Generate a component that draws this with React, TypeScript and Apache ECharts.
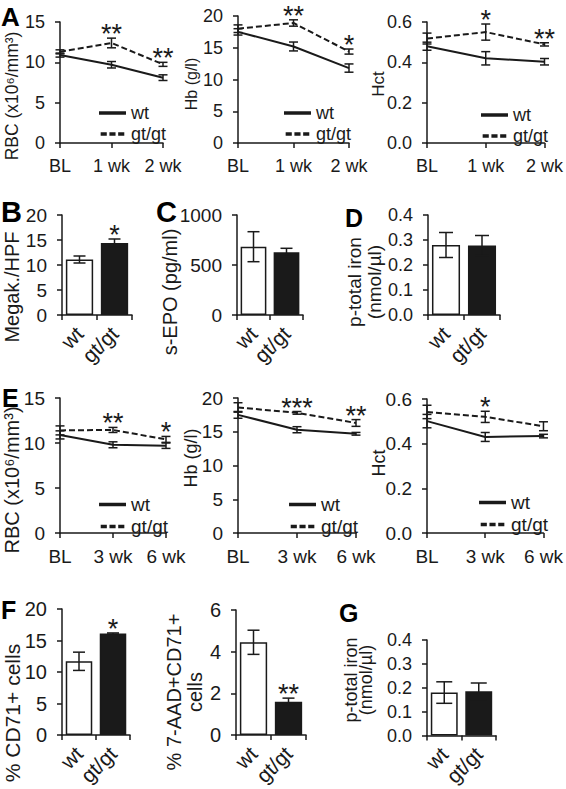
import React, { useEffect, useRef } from 'react';
import * as echarts from 'echarts';

// ---------------- data ----------------
const weeksA = ['BL', '1 wk', '2 wk'];
const weeksE = ['BL', '3 wk', '6 wk'];
const genotypes = ['wt', 'gt/gt'];

// Panel A (RBC, Hb, Hct at BL / 1 wk / 2 wk)
const rbcA_wt = [10.9, 9.7, 8.1];
const rbcA_wtSem = [0.25, 0.4, 0.35];
const rbcA_gt = [11.3, 12.4, 9.75];
const rbcA_gtSem = [0.25, 0.6, 0.25];
const rbcA_sig = ['', '**', '**'];

const hbA_wt = [17.5, 15.2, 11.8];
const hbA_wtSem = [0.5, 0.7, 0.65];
const hbA_gt = [18.0, 18.9, 14.4];
const hbA_gtSem = [0.6, 0.5, 0.4];
const hbA_sig = ['', '**', '*'];

const hctA_wt = [0.48, 0.42, 0.403];
const hctA_wtSem = [0.02, 0.033, 0.016];
const hctA_gt = [0.518, 0.55, 0.489];
const hctA_gtSem = [0.027, 0.04, 0.008];
const hctA_sig = ['', '*', '**'];

// Panels B, C, D (wt, gt/gt)
const megak = [11.1, 14.4];
const megakSem = [0.7, 0.8];
const megakSig = ['', '*'];
const epo = [683, 627];
const epoSem = [150, 40];
const epoSig = ['', ''];
const ironD = [0.28, 0.278];
const ironDSem = [0.05, 0.04];
const ironDSig = ['', ''];

// Panel E (RBC, Hb, Hct at BL / 3 wk / 6 wk)
const rbcE_wt = [10.9, 9.8, 9.7];
const rbcE_wtSem = [0.45, 0.33, 0.3];
const rbcE_gt = [11.4, 11.45, 10.4];
const rbcE_gtSem = [0.5, 0.28, 0.33];
const rbcE_sig = ['', '**', '*'];

const hbE_wt = [17.5, 15.3, 14.7];
const hbE_wtSem = [0.5, 0.45, 0.2];
const hbE_gt = [18.6, 17.8, 16.3];
const hbE_gtSem = [0.7, 0.2, 0.5];
const hbE_sig = ['', '***', '**'];

const hctE_wt = [0.501, 0.43, 0.434];
const hctE_wtSem = [0.03, 0.02, 0.008];
const hctE_gt = [0.542, 0.52, 0.478];
const hctE_gtSem = [0.03, 0.025, 0.02];
const hctE_sig = ['', '*', ''];

// Panels F, G (wt, gt/gt)
const cd71 = [11.7, 16.1];
const cd71Sem = [1.45, 0.1];
const cd71Sig = ['', '*'];
const aad = [4.45, 1.6];
const aadSem = [0.58, 0.17];
const aadSig = ['', '**'];
const ironG = [0.18, 0.185];
const ironGSem = [0.045, 0.035];
const ironGSig = ['', ''];

// ---------------- styling / layout ----------------
const FONT = 'Arial, "Liberation Sans", Helvetica, sans-serif';
const INK = '#1a1a1a';
const DASH_ICON = 'path://M0,0h7v4h-7zM10,0h7v4h-7zM20,0h7v4h-7z';

type LineP = {
  box: number[]; cats: string[]; max: number; step: number; dec: number;
  wt: number[]; wtE: number[]; gt: number[]; gtE: number[]; sig: string[];
  font: number; legend: number[]; cap: number;
};
type BarP = {
  box: number[]; max: number; step: number; dec: number;
  vals: number[]; sems: number[]; sig: string[]; font: number; xFont: number; cap: number;
};

const linePanels: LineP[] = [
  { box: [60, 22, 103, 121], cats: weeksA, max: 15, step: 5, dec: 0, wt: rbcA_wt, wtE: rbcA_wtSem, gt: rbcA_gt, gtE: rbcA_gtSem, sig: rbcA_sig, font: 18, legend: [400, 104], cap: 9 },
  { box: [238, 16, 111, 127], cats: weeksA, max: 20, step: 5, dec: 0, wt: hbA_wt, wtE: hbA_wtSem, gt: hbA_gt, gtE: hbA_gtSem, sig: hbA_sig, font: 18, legend: [215, 104], cap: 9 },
  { box: [427, 22, 118, 121], cats: weeksA, max: 0.6, step: 0.2, dec: 1, wt: hctA_wt, wtE: hctA_wtSem, gt: hctA_gt, gtE: hctA_gtSem, sig: hctA_sig, font: 18, legend: [18, 106], cap: 9 },
  { box: [60, 398, 106, 135], cats: weeksE, max: 15, step: 5, dec: 0, wt: rbcE_wt, wtE: rbcE_wtSem, gt: rbcE_gt, gtE: rbcE_gtSem, sig: rbcE_sig, font: 19, legend: [398, 495], cap: 9 },
  { box: [238, 398, 118, 135], cats: weeksE, max: 20, step: 5, dec: 0, wt: hbE_wt, wtE: hbE_wtSem, gt: hbE_gt, gtE: hbE_gtSem, sig: hbE_sig, font: 19, legend: [208, 495], cap: 9 },
  { box: [427, 399, 119, 134], cats: weeksE, max: 0.6, step: 0.2, dec: 1, wt: hctE_wt, wtE: hctE_wtSem, gt: hctE_gt, gtE: hctE_gtSem, sig: hctE_sig, font: 19, legend: [18, 493], cap: 9 },
];

const barPanels: BarP[] = [
  { box: [62, 215, 70, 100], max: 20, step: 5, dec: 0, vals: megak, sems: megakSem, sig: megakSig, font: 19, xFont: 21, cap: 12 },
  { box: [237, 215, 66, 100], max: 1000, step: 500, dec: 0, vals: epo, sems: epoSem, sig: epoSig, font: 19, xFont: 21, cap: 12 },
  { box: [428, 215, 72, 100], max: 0.4, step: 0.1, dec: 1, vals: ironD, sems: ironDSem, sig: ironDSig, font: 18, xFont: 21, cap: 14 },
  { box: [62, 609, 68, 126], max: 20, step: 5, dec: 0, vals: cd71, sems: cd71Sem, sig: cd71Sig, font: 20, xFont: 21, cap: 12 },
  { box: [236, 610, 70, 125], max: 6, step: 2, dec: 0, vals: aad, sems: aadSem, sig: aadSig, font: 20, xFont: 21, cap: 12 },
  { box: [427, 640, 69, 96], max: 0.4, step: 0.1, dec: 1, vals: ironG, sems: ironGSem, sig: ironGSig, font: 18, xFont: 21, cap: 16 },
];

// rotated y-axis titles: [text, x, y, fontSize, lineHeight]
const yTitles: [string, number, number, number, number][] = [
  ['RBC (x10\u2076/mm\u00B3)', 12, 96, 17.5, 20],
  ['Hb (g/l)', 191, 84, 16, 18],
  ['Hct', 378, 84, 17, 18],
  ['Megak./HPF', 12, 287, 20, 20],
  ['s-EPO (pg/ml)', 170, 292, 20, 20],
  ['p-total iron\n(nmol/\u00B5l)', 364, 282, 19, 20],
  ['RBC (x10\u2076/mm\u00B3)', 12, 480, 20, 22],
  ['Hb (g/l)', 191, 458, 18, 20],
  ['Hct', 379, 463, 18, 20],
  ['% CD71+ cells', 12, 713, 21, 22],
  ['% 7-AAD+CD71+\ncells', 184, 692, 20, 21],
  ['p-total iron\n(nmol/\u00B5l)', 358, 680, 18, 15],
];

// panel letters: [letter, x, y, fontSize]
const letters: [string, number, number, number][] = [
  ['A', 1, 4, 26], ['B', 1, 197, 29], ['C', 156, 197, 29], ['D', 345, 205, 25],
  ['E', 2, 385, 25], ['F', 1, 597, 25], ['G', 339, 600, 25],
];

function buildOption() {
  const grid: any[] = [];
  const xAxis: any[] = [];
  const yAxis: any[] = [];
  const series: any[] = [];
  const legend: any[] = [];

  const axisLine = { show: true, lineStyle: { color: INK, width: 1.5 } };
  const axisTick = { show: true, length: 5, lineStyle: { color: INK, width: 1.5 } };

  const errSeries = (gi: number, vals: number[], sems: number[], cap: number) => ({
    type: 'custom', name: 'err', xAxisIndex: gi, yAxisIndex: gi, z: 5, silent: true,
    data: vals.map((v, i) => [i, v, sems[i]]),
    renderItem: (_p: any, api: any) => {
      const x = api.value(0), v = api.value(1), e = api.value(2);
      const t = api.coord([x, v + e]);
      const b = api.coord([x, v - e]);
      const h = cap / 2;
      const st = { stroke: INK, lineWidth: 1.5 };
      return {
        type: 'group', children: [
          { type: 'line', shape: { x1: t[0], y1: t[1], x2: b[0], y2: b[1] }, style: st },
          { type: 'line', shape: { x1: t[0] - h, y1: t[1], x2: t[0] + h, y2: t[1] }, style: st },
          { type: 'line', shape: { x1: b[0] - h, y1: b[1], x2: b[0] + h, y2: b[1] }, style: st },
        ],
      };
    },
  });

  const sigSeries = (gi: number, vals: number[], sems: number[], sig: string[]) => ({
    type: 'custom', name: 'sig', xAxisIndex: gi, yAxisIndex: gi, z: 6, silent: true,
    data: sig.map((_s, i) => [i, vals[i] + sems[i], i]).filter((d) => sig[d[2]] !== ''),
    renderItem: (_p: any, api: any) => {
      const p = api.coord([api.value(0), api.value(1)]);
      return {
        type: 'text', x: p[0], y: p[1] - 4,
        style: { text: sig[api.value(2)], fontSize: 27, fontFamily: FONT, fill: INK, align: 'center', verticalAlign: 'middle' },
      };
    },
  });

  const yAx = (gi: number, max: number, step: number, dec: number, font: number) => ({
    type: 'value', gridIndex: gi, min: 0, max, interval: step,
    axisLine, axisTick, splitLine: { show: false },
    axisLabel: { fontSize: font, fontFamily: FONT, color: INK, margin: 15, formatter: (v: number) => v.toFixed(dec) },
  });

  linePanels.forEach((p) => {
    const gi = grid.length;
    grid.push({ left: p.box[0], top: p.box[1], width: p.box[2], height: p.box[3] });
    xAxis.push({
      type: 'category', gridIndex: gi, data: p.cats, boundaryGap: false,
      axisLine, axisTick: { ...axisTick, alignWithLabel: true },
      axisLabel: { fontSize: p.font, fontFamily: FONT, color: INK, margin: 14, interval: 0 },
    });
    yAxis.push(yAx(gi, p.max, p.step, p.dec, p.font));
    series.push({
      type: 'line', name: 'wt', xAxisIndex: gi, yAxisIndex: gi, data: p.wt, symbol: 'none', z: 3,
      lineStyle: { color: INK, width: 2 }, itemStyle: { color: INK },
    });
    series.push({
      type: 'line', name: 'gt/gt', xAxisIndex: gi, yAxisIndex: gi, data: p.gt, symbol: 'none', z: 3,
      lineStyle: { color: INK, width: 2, type: [6, 3] }, itemStyle: { color: INK },
    });
    series.push(errSeries(gi, p.wt, p.wtE, p.cap));
    series.push(errSeries(gi, p.gt, p.gtE, p.cap));
    series.push(sigSeries(gi, p.gt, p.gtE, p.sig));
    legend.push({
      data: [
        { name: genotypes[0], icon: 'rect' },
        { name: genotypes[1], icon: DASH_ICON },
      ],
      orient: 'vertical', right: p.legend[0], top: p.legend[1],
      itemWidth: 27, itemHeight: 3.5, itemGap: 3, selectedMode: false, padding: 0,
      itemStyle: { color: INK, borderWidth: 0 },
      textStyle: { fontSize: p.font, fontFamily: FONT, color: INK },
    });
  });

  barPanels.forEach((p) => {
    const gi = grid.length;
    grid.push({ left: p.box[0], top: p.box[1], width: p.box[2], height: p.box[3] });
    xAxis.push({
      type: 'category', gridIndex: gi, data: genotypes, boundaryGap: true,
      axisLine, axisTick: { ...axisTick, alignWithLabel: false },
      axisLabel: { fontSize: p.xFont, fontFamily: FONT, color: INK, rotate: 45, margin: 15, interval: 0 },
    });
    yAxis.push(yAx(gi, p.max, p.step, p.dec, p.font));
    series.push({
      type: 'bar', name: 'bars', xAxisIndex: gi, yAxisIndex: gi, barCategoryGap: '22%', z: 2,
      data: p.vals.map((v, i) => ({ value: v, itemStyle: { color: i === 0 ? '#ffffff' : INK } })),
      itemStyle: { borderColor: INK, borderWidth: 1.5 },
    });
    series.push(errSeries(gi, p.vals, p.sems, p.cap));
    series.push(sigSeries(gi, p.vals, p.sems, p.sig));
  });

  const graphic: any[] = [];
  yTitles.forEach(([text, x, y, fs, lh]) => {
    graphic.push({
      type: 'text', x, y, rotation: Math.PI / 2, silent: true,
      style: { text, fontSize: fs, fontFamily: FONT, fill: INK, align: 'center', verticalAlign: 'middle', lineHeight: lh },
    });
  });
  letters.forEach(([text, x, y, fs]) => {
    graphic.push({
      type: 'text', x, y, silent: true,
      style: { text, fontSize: fs, fontWeight: 'bold', fontFamily: FONT, fill: '#000', align: 'left', verticalAlign: 'top' },
    });
  });

  return {
    animation: false,
    backgroundColor: '#ffffff',
    textStyle: { fontFamily: FONT },
    grid, xAxis, yAxis, series, legend, graphic,
  };
}

export default function App() {
  const ref = useRef<HTMLDivElement>(null);
  useEffect(() => {
    if (!ref.current) return;
    const chart = echarts.init(ref.current, undefined, { renderer: 'svg' });
    chart.setOption(buildOption() as any);
    return () => chart.dispose();
  }, []);
  return (
    <div
      ref={ref}
      style={{ position: 'absolute', left: 0, top: 0, width: 566, height: 789, background: '#fff' }}
    />
  );
}
